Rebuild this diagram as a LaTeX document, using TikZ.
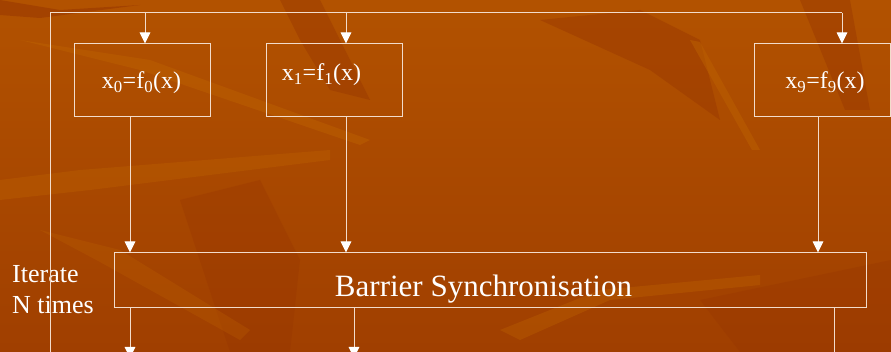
\documentclass[tikz,border=0pt]{standalone}
\usepackage{fontspec}
\setmainfont{Liberation Serif}
\usepackage{tikz}
\usetikzlibrary{arrows.meta,positioning,calc}
\definecolor{bgtop}{HTML}{B25200}
\definecolor{bgbot}{HTML}{A03F00}
\definecolor{bgdark}{HTML}{963400}
\definecolor{bglight}{HTML}{BC6000}
\definecolor{wirec}{HTML}{F2DCCB}

\begin{document}
\begin{tikzpicture}[x=1pt,y=-1pt,
  fbox/.style={draw=wirec,line width=1pt,minimum width=136pt,minimum height=73pt,inner sep=0pt},
  barbox/.style={draw=wirec,line width=1pt,minimum width=752pt,minimum height=55pt,inner sep=0pt},
  lbl/.style={text=white,inner sep=0pt,anchor=base},
  wire/.style={wirec,line width=1pt},
  arr/.style={wirec,line width=1pt,-{Triangle[length=11pt,width=10.5pt,fill=white,color=white]}}]
% background
\useasboundingbox (0,0) rectangle (891,352);
\clip (0,0) rectangle (891,352);
\shade[top color=bgtop,bottom color=bgbot] (0,0) rectangle (891,352);
\fill[bgdark,opacity=0.5] (0,0) -- (60,10) -- (140,5) -- (40,18) -- (0,15) -- cycle;
\fill[bgdark,opacity=0.4] (280,0) -- (300,40) -- (330,90) -- (370,100) -- (350,60) -- (320,0) -- cycle;
\fill[bgdark,opacity=0.4] (540,20) -- (640,10) -- (700,40) -- (720,120) -- (650,70) -- cycle;
\fill[bgdark,opacity=0.4] (800,0) -- (850,0) -- (870,110) -- (845,110) -- cycle;
\fill[bglight,opacity=0.5] (20,40) -- (150,60) -- (370,140) -- (360,145) -- (140,70) -- cycle;
\fill[bglight,opacity=0.5] (690,40) -- (700,42) -- (760,150) -- (752,150) -- cycle;
\fill[bglight,opacity=0.4] (0,180) -- (80,170) -- (330,150) -- (330,160) -- (90,190) -- (0,200) -- cycle;
\fill[bgdark,opacity=0.3] (180,200) -- (260,180) -- (300,260) -- (290,352) -- (230,352) -- cycle;
\fill[bglight,opacity=0.4] (500,330) -- (600,290) -- (760,275) -- (760,285) -- (610,300) -- (520,340) -- cycle;
\fill[bglight,opacity=0.3] (40,230) -- (120,250) -- (250,330) -- (240,340) -- (100,262) -- cycle;
\fill[bgdark,opacity=0.3] (700,300) -- (891,260) -- (891,352) -- (740,352) -- cycle;

% the boxes
\node[fbox] (f0) at (142,80.5) {};
\node[fbox] (f1) at (334,80.5) {};
\node[fbox] (f9) at (822,80.5) {};
\node[barbox] (bar) at (490,280.5) {};

\node[lbl,font=\fontsize{24}{28}\selectfont] (t0) at (141.5,89) {x\textsubscript{0}=f\textsubscript{0}(x)};
\node[lbl,font=\fontsize{24}{28}\selectfont] (t1) at (321.5,81) {x\textsubscript{1}=f\textsubscript{1}(x)};
\node[lbl,font=\fontsize{24}{28}\selectfont] (t9) at (825,89) {x\textsubscript{9}=f\textsubscript{9}(x)};
\node[lbl,font=\fontsize{31}{36}\selectfont] (tbar) at (483.5,297) {Barrier Synchronisation};
\node[lbl,anchor=base west,align=left,font=\fontsize{26}{31.3}\selectfont] (iter) at (12,314) {Iterate\\N times};

% columns of the connectors
\coordinate (ci0) at (145,0);
\coordinate (ci1) at (346,0);
\coordinate (co0) at (130,0);
\coordinate (co1) at (346,0);
\coordinate (co9) at (818,0);
% the loop
\coordinate (tl) at (50,13);
\coordinate (tr) at (842,13);
\coordinate (bl) at (50,360);
\draw[wire] (bl) -- (tl) -- (tr);
\draw[arr] (ci0 |- tl) -- (ci0 |- f0.north);
\draw[arr] (ci1 |- tl) -- (ci1 |- f1.north);
\draw[arr] (tr) -- (tr |- f9.north);
% into the barrier
\draw[arr] (co0 |- f0.south) -- (co0 |- bar.north);
\draw[arr] (co1 |- f1.south) -- (co1 |- bar.north);
\draw[arr] (co9 |- f9.south) -- (co9 |- bar.north);
% out of the barrier
\coordinate (o0) at (130,358);
\coordinate (o1) at (354,358);
\coordinate (o9) at (834,372);
\draw[arr] (o0 |- bar.south) -- (o0);
\draw[arr] (o1 |- bar.south) -- (o1);
\draw[arr] (o9 |- bar.south) -- (o9);
\end{tikzpicture}
\end{document}
